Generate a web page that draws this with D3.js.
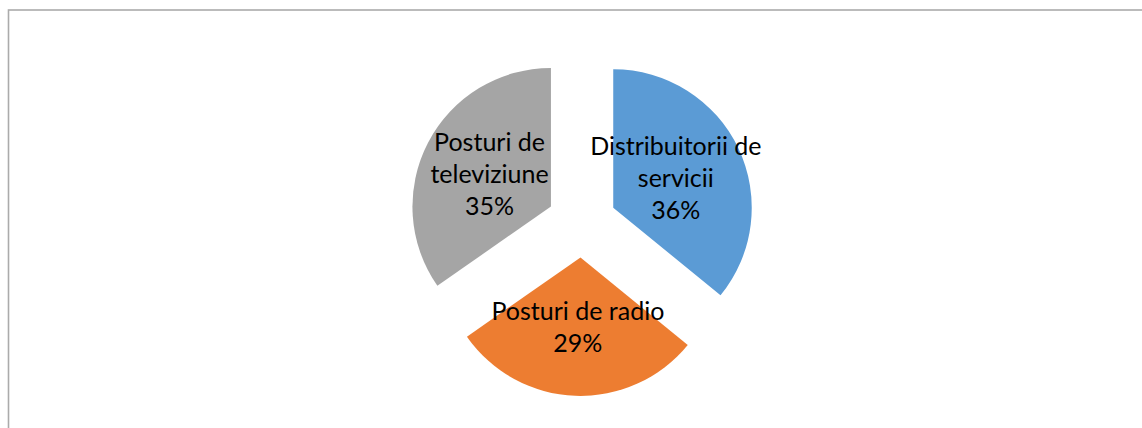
<!DOCTYPE html>
<html>
<head>
<meta charset="utf-8">
<script src="https://cdn.jsdelivr.net/npm/d3@7"></script>
<style>
  body { margin: 0; background: #fff; }
  svg { display: block; }
</style>
</head>
<body>
<div id="chart"></div>
<script>
// data
var categories = ["Distribuitorii de servicii", "Posturi de radio", "Posturi de televiziune"];
var values = [35.9, 29.4, 34.7];
var labelLines = [["Distribuitorii de", "servicii"], ["Posturi de radio"], ["Posturi de", "televiziune"]];
var colors = ["#5B9BD5", "#ED7D31", "#A5A5A5"];

var width = 1142, height = 428;
var cx = 581.8, cy = 222.6;
var radius = 138.5;
var explode = 34.8;
var lineHeight = 32;

var svg = d3.select("#chart").append("svg")
  .attr("width", width)
  .attr("height", height);

// chart frame (right and bottom edges fall outside the window)
svg.append("rect")
  .attr("x", 8.5)
  .attr("y", 10)
  .attr("width", 1400)
  .attr("height", 600)
  .attr("fill", "none")
  .attr("stroke", "#ABABAB")
  .attr("stroke-width", 1.6);

var total = d3.sum(values);
var pie = d3.pie().sort(null).value(function(d) { return d; });
var arc = d3.arc().innerRadius(0).outerRadius(radius);
var arcs = pie(values);

function shift(d) {
  var mid = (d.startAngle + d.endAngle) / 2;
  return [explode * Math.sin(mid), -explode * Math.cos(mid)];
}

var g = svg.append("g").attr("transform", "translate(" + cx + "," + cy + ")");

var slice = g.selectAll("g.slice")
  .data(arcs)
  .enter().append("g")
  .attr("class", "slice")
  .attr("transform", function(d) {
    var s = shift(d);
    return "translate(" + s[0] + "," + s[1] + ")";
  });

slice.append("path")
  .attr("d", arc)
  .attr("fill", function(d, i) { return colors[i]; });

slice.each(function(d, i) {
  var c = arc.centroid(d);
  var lines = labelLines[i].concat([Math.round(d.value / total * 100) + "%"]);
  var n = lines.length;
  var t = d3.select(this).append("text")
    .attr("text-anchor", "middle")
    .attr("font-family", "Lato, 'Open Sans', sans-serif")
    .attr("font-size", 25)
    .attr("fill", "#000");
  lines.forEach(function(line, k) {
    t.append("tspan")
      .attr("x", c[0])
      .attr("y", c[1] + 9 + (k - (n - 1) / 2) * lineHeight)
      .text(line);
  });
});
</script>
</body>
</html>
